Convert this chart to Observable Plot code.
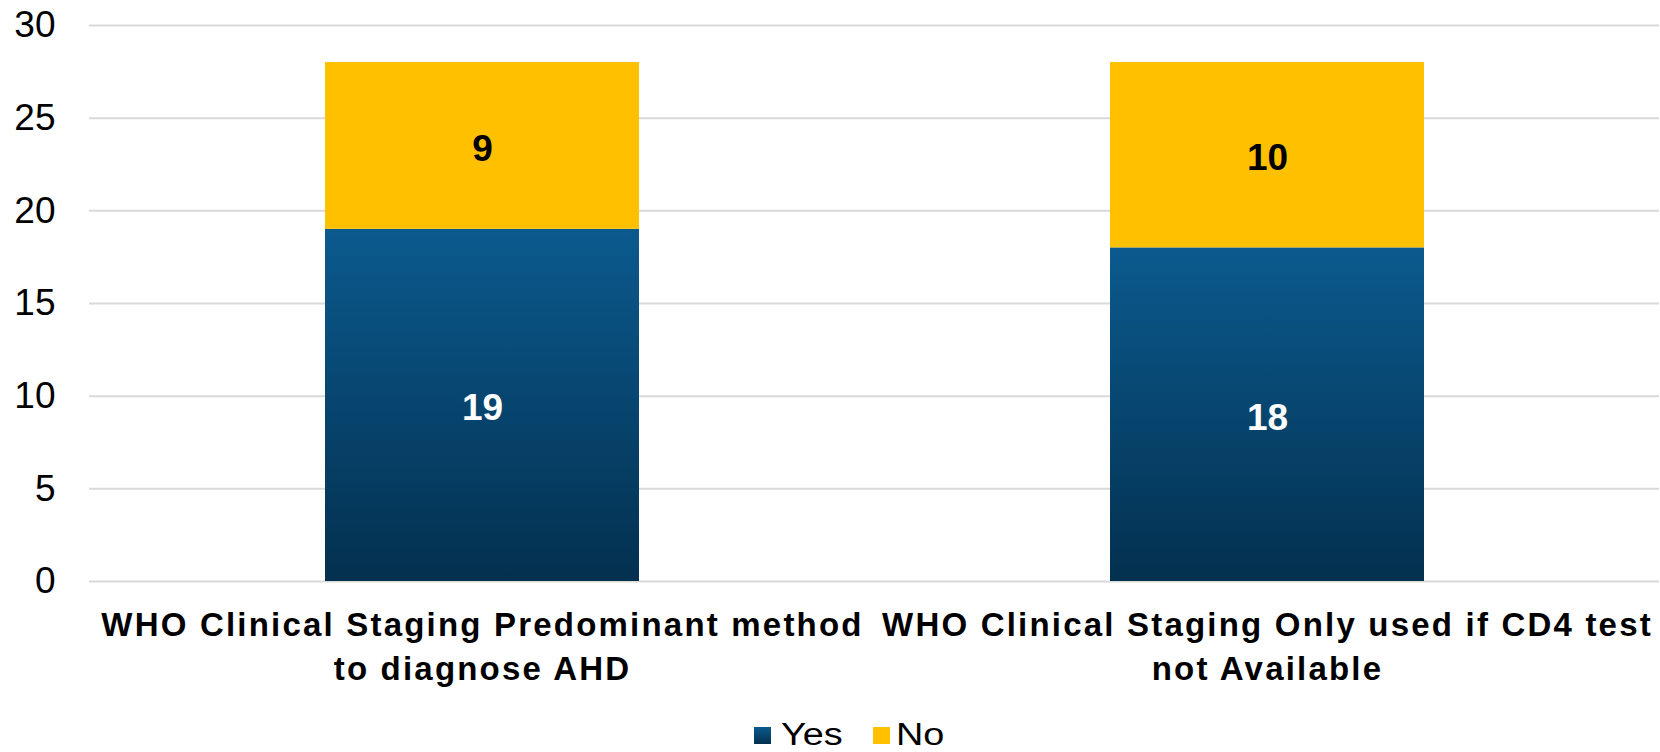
<!DOCTYPE html>
<html><head><meta charset="utf-8">
<script src="https://cdn.jsdelivr.net/npm/d3@7"></script>
<script src="https://cdn.jsdelivr.net/npm/@observablehq/plot@0.6"></script>
<style>
html,body{margin:0;padding:0;background:#fff;}
#wrap{position:relative;width:1660px;height:752px;font-family:"Liberation Sans",Arial,sans-serif;overflow:hidden;}
#legend{position:absolute;left:754px;top:720px;height:30px;display:flex;align-items:center;font-size:31px;color:#000;white-space:nowrap;}
.sw{display:inline-block;width:17px;height:17px;}
.lab{display:inline-block;transform:scaleX(1.22);transform-origin:left center;}
</style></head><body><div id="wrap"></div>
<script>
const categories = ["WHO Clinical Staging Predominant method to diagnose AHD", "WHO Clinical Staging Only used if CD4 test not Available"];
const labelLines = [["WHO Clinical Staging Predominant method", "to diagnose AHD"], ["WHO Clinical Staging Only used if CD4 test", "not Available"]];
const series = ["Yes", "No"];
const yesValues = [19, 18];
const noValues = [9, 10];
const yTicks = [0, 5, 10, 15, 20, 25, 30];
const seriesColors = ["url(#yesGrad)", "#FFC000"];
const legendColors = ["linear-gradient(#0B5A8E,#03304F)", "#FFC000"];

const data = [];
categories.forEach((c, i) => data.push({cat: c, series: "Yes", value: yesValues[i]}));
categories.forEach((c, i) => data.push({cat: c, series: "No", value: noValues[i]}));

const chart = Plot.plot({
  width: 1660,
  height: 700,
  marginLeft: 89,
  marginRight: 1,
  marginTop: 25,
  marginBottom: 119,
  style: {fontFamily: "'Liberation Sans', Arial, sans-serif", fontSize: "37px", color: "#000", background: "#fff", overflow: "visible"},
  x: {domain: categories, paddingInner: 0.6, paddingOuter: 0.3, axis: null},
  y: {domain: [0, 30], ticks: yTicks, tickSize: 0, tickPadding: 34, label: null},
  color: {domain: series, range: seriesColors},
  marks: [
    Plot.ruleY(yTicks, {stroke: "#d9d9d9", strokeWidth: 2}),
    Plot.barY(data, {x: "cat", y: "value", fill: "series"}),
    Plot.text(data, Plot.stackY({x: "cat", y: "value", text: d => d.series === "Yes" ? String(d.value) : null, fill: "white", fontWeight: "bold", fontSize: 37, dy: 3})),
    Plot.text(data, Plot.stackY({x: "cat", y: "value", text: d => d.series === "No" ? String(d.value) : null, fill: "black", fontWeight: "bold", fontSize: 37, dy: 3})),
    Plot.text(categories, {x: d => d, text: (d, i) => labelLines[i].join("\n"), frameAnchor: "bottom", lineAnchor: "top", dy: 24, fontSize: 33, fontWeight: "bold", lineHeight: 1.32, fill: "black"})
  ]
});

d3.select(chart).insert("defs", ":first-child").html(
  '<linearGradient id="yesGrad" x1="0" y1="0" x2="0" y2="1"><stop offset="0" stop-color="#0B5A8E"/><stop offset="1" stop-color="#03304F"/></linearGradient>'
);
d3.select(chart).selectAll("text")
  .filter(function () { return this.textContent.startsWith("WHO Clinical"); })
  .style("letter-spacing", "2.2px");

const wrap = document.getElementById("wrap");
wrap.appendChild(chart);

const legend = document.createElement("div");
legend.id = "legend";
const gaps = [[10, 41], [6, 0]];
series.forEach((s, i) => {
  const sw = document.createElement("span");
  sw.className = "sw";
  sw.style.background = legendColors[i];
  sw.style.marginRight = gaps[i][0] + "px";
  const lab = document.createElement("span");
  lab.className = "lab";
  lab.textContent = s;
  lab.style.marginRight = gaps[i][1] + "px";
  legend.appendChild(sw);
  legend.appendChild(lab);
});
wrap.appendChild(legend);
</script></body></html>
